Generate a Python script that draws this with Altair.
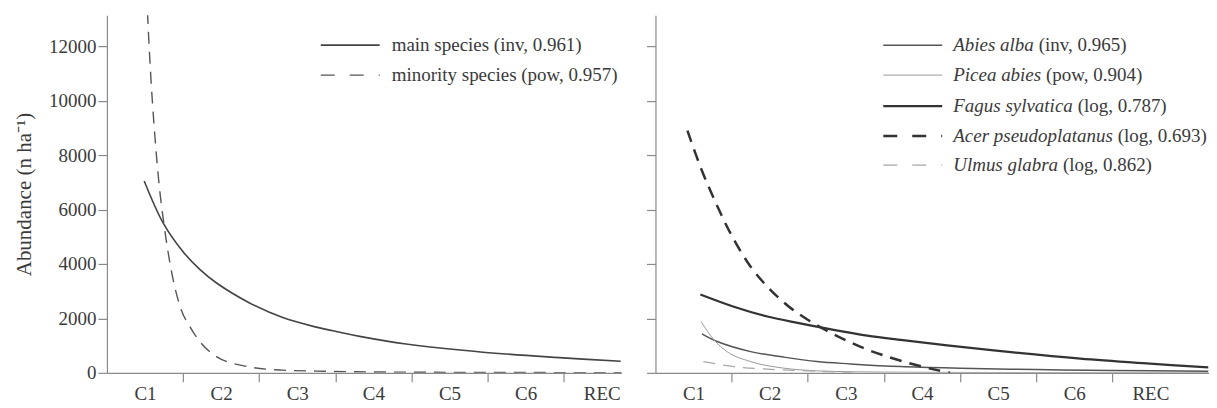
import altair as alt
import pandas as pd

# ---------------- data ----------------
cats = ["C1", "C2", "C3", "C4", "C5", "C6", "REC"]
y_ticks = [0, 2000, 4000, 6000, 8000, 10000, 12000]
Y_MAX = 13140

# left panel (x in category units, 0 = start of C1)
main_x = [0.49, 0.74, 1.0, 1.22, 1.44, 1.88, 2.31, 2.75, 3.06, 3.32, 3.93, 4.94, 5.94, 6.75]
main_y = [7050, 5500, 4450, 3800, 3300, 2560, 2030, 1680, 1490, 1340, 1060, 760, 560, 425]
minor_x = [0.52, 0.57, 0.63, 0.69, 0.75, 0.83, 0.96, 1.1, 1.22, 1.45, 1.85, 2.3, 2.75, 3.3, 4.0, 5.0, 6.0, 6.76]
minor_y = [14000, 11200, 8700, 6800, 5450, 4000, 2450, 1650, 1150, 580, 230, 100, 65, 40, 25, 15, 10, 8]

# right panel
abies_x = [0.61, 0.81, 1.25, 1.68, 2.12, 2.56, 3.22, 4.0, 5.0, 6.0, 7.26]
abies_y = [1430, 1150, 780, 580, 415, 330, 230, 170, 120, 85, 60]
picea_x = [0.60, 0.77, 0.94, 1.25, 1.68, 2.12, 2.6, 3.2, 4.0, 5.0, 6.0, 7.26]
picea_y = [1880, 1210, 780, 415, 175, 75, 40, 25, 15, 10, 7, 5]
fagus_x = [0.59, 1.03, 1.47, 1.90, 2.34, 2.78, 3.22, 3.83, 4.70, 5.58, 6.45, 7.26]
fagus_y = [2880, 2430, 2070, 1820, 1580, 1370, 1210, 1010, 750, 520, 345, 200]
acer_x = [0.42, 0.6, 0.8, 1.0, 1.25, 1.5, 1.75, 2.0, 2.25, 2.5, 2.75, 3.0, 3.25, 3.5, 3.7, 3.87]
acer_y = [8900, 7500, 6200, 5050, 3900, 3080, 2440, 1950, 1550, 1200, 890, 640, 420, 230, 100, 0]
ulmus_x = [0.63, 1.03, 1.47, 1.90, 2.3, 2.6]
ulmus_y = [415, 230, 135, 85, 35, 0]

left_names = ["", ""]
left_labels = ["main species (inv, 0.961)", "minority species (pow, 0.957)"]
right_names = ["Abies alba", "Picea abies", "Fagus sylvatica", "Acer pseudoplatanus", "Ulmus glabra"]
right_labels = ["(inv, 0.965)", "(pow, 0.904)", "(log, 0.787)", "(log, 0.693)", "(log, 0.862)"]

# ---------------- styling ----------------
FONT = "Liberation Serif"
FS = 19
TXT = "#3a3a3a"
AX = "#8a8a8a"
H = 358
W_LEFT, W_RIGHT = 515, 554
XMAX_LEFT, XMAX_RIGHT = 6.76, 7.27

# Times italic advance widths (per 1000 em) for positioning the regular suffix
ITW = {" ": 250, "A": 611, "F": 611, "P": 611, "U": 722, "a": 500, "b": 500, "c": 444,
       "d": 500, "e": 444, "g": 500, "i": 278, "l": 278, "m": 722, "n": 500, "o": 500,
       "p": 500, "r": 389, "s": 389, "t": 278, "u": 500, "v": 444, "y": 444}


def it_width(s):
    return sum(ITW.get(ch, 500) for ch in s) * FS / 1000.0


label_values = []
for i in range(len(cats)):
    label_values.append(i + 0.5)
    if i < len(cats) - 1:
        label_values.append(i + 1)
label_expr = ("datum.value % 1 == 0 ? '' : " +
              "[" + ",".join("'%s'" % c for c in cats) + "][floor(datum.value)]")


def x_enc(xmax):
    return alt.X("x:Q",
                 scale=alt.Scale(domain=[0, xmax], nice=False, zero=False),
                 axis=alt.Axis(values=label_values, labelExpr=label_expr, title=None,
                               tickOpacity={"condition": {"test": "datum.value % 1 != 0", "value": 0}, "value": 1},
                               labelPadding=3))


def y_enc(show_labels):
    if show_labels:
        ax = alt.Axis(values=y_ticks, format="d", title="Abundance (n ha\u207b\u00b9)",
                      titlePadding=14, titleFontSize=21)
    else:
        ax = alt.Axis(values=y_ticks, title=None, labels=False)
    return alt.Y("y:Q", scale=alt.Scale(domain=[0, Y_MAX], nice=False), axis=ax)


def series_layer(xs, ys, xmax, show_labels, color, width, dash, interp):
    df = pd.DataFrame({"x": xs, "y": ys})
    kw = dict(clip=True, interpolate=interp, color=color, strokeWidth=width)
    if dash is not None:
        kw["strokeDash"] = dash
    return alt.Chart(df).mark_line(**kw).encode(x=x_enc(xmax), y=y_enc(show_labels))


one = pd.DataFrame({"k": [0]})


def legend_layers(names, labels, styles, x0, x1, xt, rows):
    out = []
    for name, lab, st, ry in zip(names, labels, styles, rows):
        color, width, dash, _ = st
        kw = dict(color=color, strokeWidth=width)
        if dash is not None:
            kw["strokeDash"] = [14, 15]
        out.append(alt.Chart(one).mark_rule(**kw).encode(
            x=alt.value(x0), x2=alt.value(x1), y=alt.value(ry)))
        tx = xt
        if name:
            out.append(alt.Chart(one).mark_text(
                text=name, font=FONT, fontSize=FS, fontStyle="italic", color=TXT,
                align="left", baseline="middle").encode(x=alt.value(tx), y=alt.value(ry)))
            tx = xt + it_width(name + " ")
        out.append(alt.Chart(one).mark_text(
            text=lab, font=FONT, fontSize=FS, color=TXT,
            align="left", baseline="middle").encode(x=alt.value(tx), y=alt.value(ry)))
    return out


left_styles = [("#444444", 1.6, None, "catmull-rom"), ("#555555", 1.4, [12, 8], "monotone")]
right_styles = [("#555555", 1.5, None, "catmull-rom"), ("#9a9a9a", 1.0, None, "monotone"),
                ("#333333", 2.2, None, "catmull-rom"), ("#333333", 2.5, [12, 8], "catmull-rom"),
                ("#a8a8a8", 1.3, [12, 8], "monotone")]

left_series = [(main_x, main_y), (minor_x, minor_y)]
right_series = [(abies_x, abies_y), (picea_x, picea_y), (fagus_x, fagus_y),
                (acer_x, acer_y), (ulmus_x, ulmus_y)]

left_layers = [series_layer(xs, ys, XMAX_LEFT, True, *st) for (xs, ys), st in zip(left_series, left_styles)]
left_layers += legend_layers(left_names, left_labels, left_styles, 214, 273, 285, [30, 60])
left = alt.layer(*left_layers).properties(width=W_LEFT, height=H)

right_layers = [series_layer(xs, ys, XMAX_RIGHT, False, *st) for (xs, ys), st in zip(right_series, right_styles)]
right_layers += legend_layers(right_names, right_labels, right_styles, 228, 287, 298, [30, 60, 91, 121, 150])
right = alt.layer(*right_layers).properties(width=W_RIGHT, height=H)

chart = alt.hconcat(left, right, spacing=24).properties(
    padding={"left": 5, "top": 7, "right": 0, "bottom": 0},
    background="white",
).configure_view(stroke=None).configure_axis(
    domainColor=AX, tickColor=AX, domainWidth=1.2, tickWidth=1.2, tickSize=9,
    labelFont=FONT, titleFont=FONT, labelFontSize=FS, titleFontSize=FS,
    labelColor=TXT, titleColor=TXT, titleFontWeight="normal", grid=False,
)

chart.save("out.html", embed_options={"renderer": "svg", "actions": False})
